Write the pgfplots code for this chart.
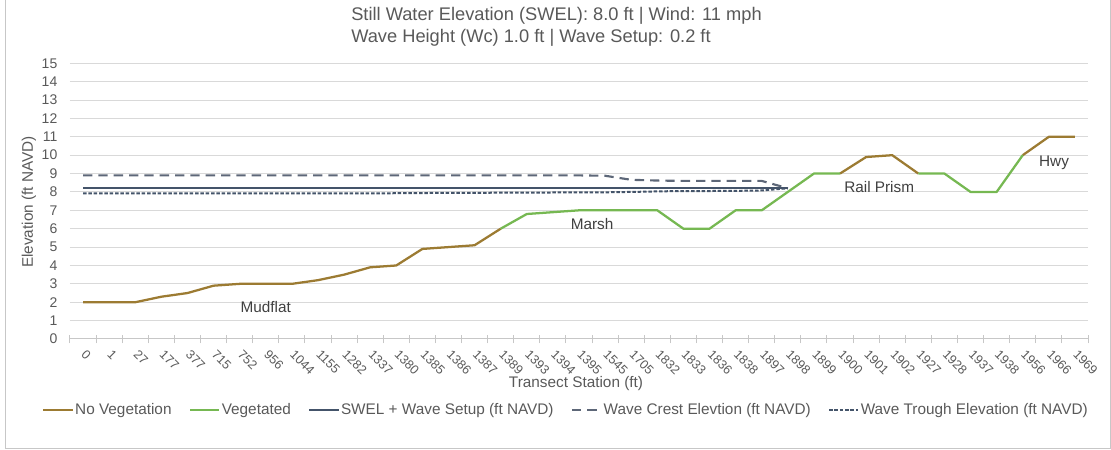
\documentclass[border=0pt]{standalone}
\usepackage{pgfplots}
\pgfplotsset{compat=1.18}
\usepackage{fontspec}
\setmainfont{Liberation Sans}
\definecolor{brownc}{HTML}{9C7B32}
\definecolor{greenc}{HTML}{76B852}
\definecolor{swel}{HTML}{44546A}
\definecolor{crest}{HTML}{5D6778}
\definecolor{txt}{HTML}{595959}
\definecolor{anno}{HTML}{404040}
\definecolor{gridc}{HTML}{D9D9D9}
\begin{document}
\begin{tikzpicture}[x=0.75pt,y=0.75pt]
\useasboundingbox (0,0) rectangle (1111,450);
\draw[gridc!80!gray, line width=0.75pt] (5,1) rectangle (1110,470);
\begin{axis}[
  at={(52.5pt,83.25pt)}, anchor=south west,
  scale only axis, width=763.5pt, height=206.8pt,
  xmin=-0.5, xmax=38.5, ymin=0, ymax=15,
  ytick={0,...,15}, xtick={0,...,38},
  xticklabels={0,1,27,177,377,715,752,956,1044,1155,1282,1337,1380,1385,1386,1387,1389,1393,1394,1395,1545,1705,1832,1833,1836,1838,1897,1898,1899,1900,1901,1902,1927,1928,1937,1938,1956,1966,1969},
  minor xtick={-0.5,0.5,...,38.5},
  major tick length=0pt, minor tick length=6.5pt, tick align=center,
  minor tick style={gridc!80!gray, line width=0.75pt},
  separate axis lines,
  axis x line*=bottom, axis y line*=left,
  y axis line style={draw=none},
  x axis line style={draw=gridc!80!gray, line width=0.75pt, -},
  ymajorgrids, grid style={gridc, line width=0.75pt},
  xminorgrids=false,
  yticklabel style={font=\fontsize{10.5}{12}\selectfont, text=txt, xshift=-6pt},
  /pgf/number format/assume math mode=true,
  xticklabel style={font=\fontsize{9.5}{11}\selectfont, text=txt, yshift=-9.5pt, rotate=-45, anchor=west, inner sep=0.5pt},
  unbounded coords=jump,
  legend columns=5,
  legend style={at={(-0.0275,-0.2575)}, anchor=west, draw=none, fill=none, inner sep=0pt,
    font=\fontsize{11.5}{13}\selectfont, text=txt,
    /tikz/every even column/.append style={column sep=12pt},
    nodes={inner xsep=1pt}},
  legend image code/.code={\draw[#1] (0pt,0pt) -- (22pt,0pt);},
]
\addplot[brownc, line width=1.7pt, line join=round] coordinates {
(0,2)(1,2)(2,2)(3,2.3)(4,2.5)(5,2.9)(6,3)(7,3)(8,3)(9,3.2)(10,3.5)(11,3.9)(12,4)(13,4.9)(14,5)(15,5.1)(16,6)
(17,nan)(29,9)(30,9.9)(31,10)(32,9)(33,nan)(36,10)(37,11)(38,11)};
\addlegendentry{No Vegetation}
\addplot[greenc, line width=1.7pt, line join=round] coordinates {
(16,6)(17,6.8)(18,6.9)(19,7)(20,7)(21,7)(22,7)(23,6)(24,6)(25,7)(26,7)(27,8)(28,9)(29,9)
(30,nan)(32,9)(33,9)(34,8)(35,8)(36,10)};
\addlegendentry{Vegetated}
\addplot[swel, line width=1.6pt] coordinates {
(0,8.2)(27,8.2)};
\addlegendentry{SWEL + Wave Setup (ft NAVD)}
\addplot[crest, line width=1.6pt, dash pattern=on 7pt off 4.5pt, line join=round] coordinates {
(0,8.9)(1,8.9)(2,8.9)(3,8.9)(4,8.9)(5,8.9)(6,8.9)(7,8.9)(8,8.9)(9,8.9)(10,8.9)(11,8.9)(12,8.9)(13,8.9)(14,8.9)(15,8.9)(16,8.9)(17,8.9)(18,8.9)(19,8.9)(20,8.88)(21,8.66)(22,8.62)(23,8.6)(24,8.6)(25,8.6)(26,8.6)(27,8.2)};
\addlegendentry{Wave Crest Elevtion (ft NAVD)}
\addplot[swel, line width=1.5pt, dash pattern=on 2.6pt off 1.4pt, line join=round] coordinates {
(0,7.92)(1,7.92)(2,7.92)(3,7.92)(4,7.92)(5,7.92)(6,7.92)(7,7.92)(8,7.92)(9,7.92)(10,7.92)(11,7.92)(12,7.93)(13,7.94)(14,7.95)(15,7.95)(16,7.96)(17,7.96)(18,7.97)(19,7.97)(20,7.98)(21,8.0)(22,8.03)(23,8.05)(24,8.05)(25,8.06)(26,8.08)(27,8.2)};
\addlegendentry{Wave Trough Elevation (ft NAVD)}
\node[anno, font=\fontsize{11.5}{13}\selectfont] at (axis cs:7.0,1.74) {Mudflat};
\node[anno, font=\fontsize{11.5}{13}\selectfont] at (axis cs:19.5,6.26) {Marsh};
\node[anno, font=\fontsize{11.5}{13}\selectfont] at (axis cs:30.5,8.27) {Rail Prism};
\node[anno, font=\fontsize{11.5}{13}\selectfont] at (axis cs:37.2,9.6) {Hwy};
\end{axis}
\node[txt, anchor=west, font=\fontsize{13.7}{16}\selectfont, inner sep=0pt] at (351,434) {Still Water Elevation (SWEL): 8.0 ft | Wind: 11 mph};
\node[txt, anchor=west, font=\fontsize{13.7}{16}\selectfont, inner sep=0pt] at (351,412) {Wave Height (Wc) 1.0 ft | Wave Setup: 0.2 ft};
\node[txt, font=\fontsize{11.5}{13}\selectfont, inner sep=0pt] at (576,66) {Transect Station (ft)};
\node[txt, rotate=90, font=\fontsize{11.5}{13}\selectfont, inner sep=0pt] at (29,248) {Elevation (ft NAVD)};
\end{tikzpicture}
\end{document}
